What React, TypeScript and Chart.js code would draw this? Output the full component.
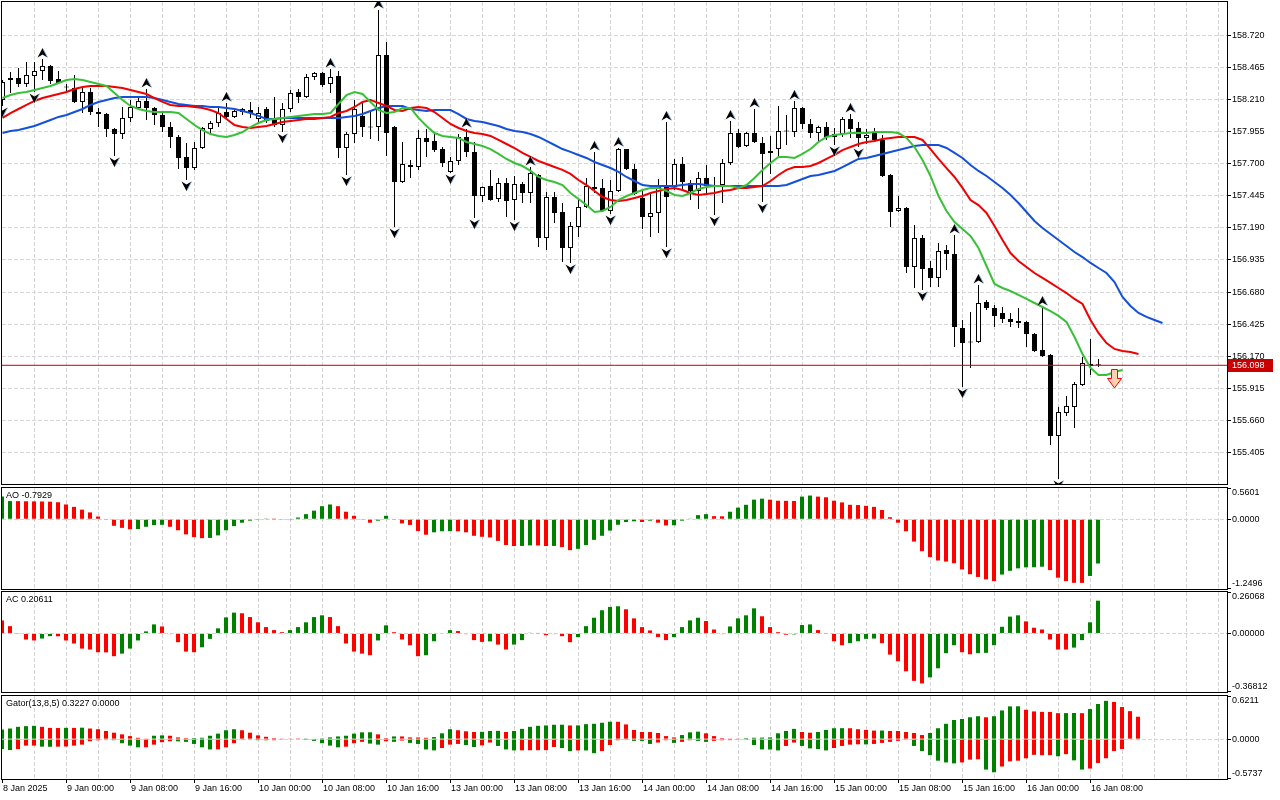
import React, { useEffect, useRef } from "react";
import { Chart, registerables } from "chart.js";

Chart.register(...registerables);

// ---------------- styling ----------------
const FONT = { family: "'Liberation Sans', Arial, sans-serif", size: 9 };
const GRID = "#d6d6d6";
const GRID_DASH = [4, 2];
const HIST_GREEN = "#008000";
const HIST_RED = "#ff0000";
const JAW_BLUE = "#1450d8";
const TEETH_RED = "#f00000";
const LIPS_GREEN = "#38c038";
const PRICE_LINE = "#c00000";
const BAR_SLOTS = 153.125; // visible hourly slots across the plot width

// ---------------- data ----------------
const xLabels = [
  "8 Jan 2025", "9 Jan 00:00", "9 Jan 08:00", "9 Jan 16:00", "10 Jan 00:00", "10 Jan 08:00",
  "10 Jan 16:00", "13 Jan 00:00", "13 Jan 08:00", "13 Jan 16:00", "14 Jan 00:00", "14 Jan 08:00",
  "14 Jan 16:00", "15 Jan 00:00", "15 Jan 08:00", "15 Jan 16:00", "16 Jan 00:00", "16 Jan 08:00",
];

const priceTicks = [
  158.72, 158.465, 158.21, 157.955, 157.7, 157.445, 157.19, 156.935, 156.68, 156.425, 156.17,
  155.915, 155.66, 155.405,
];
const mainPriceMin = 155.155;
const mainPriceMax = 158.984;

const opens = [
  158.206, 158.364, 158.38, 158.333, 158.396, 158.436, 158.476, 158.372, 158.309, 158.301,
  158.19, 158.269, 158.11, 158.094, 157.975, 157.936, 158.063, 158.142, 158.198, 158.142,
  158.086, 157.991, 157.912, 157.753, 157.665, 157.824, 157.975, 158.023, 158.11, 158.071,
  158.11, 158.126, 158.055, 158.134, 158.047, 158.007, 158.134, 158.269, 158.229, 158.388,
  158.42, 158.333, 158.396, 157.824, 157.936, 158.079, 157.991, 157.991, 158.563, 157.991,
  157.554, 157.689, 157.673, 157.904, 157.88, 157.816, 157.634, 157.721, 157.912, 157.793,
  157.443, 157.522, 157.419, 157.546, 157.411, 157.538, 157.467, 157.61, 157.109, 157.435,
  157.316, 157.03, 157.197, 157.356, 157.499, 157.507, 157.324, 157.483, 157.816, 157.657,
  157.427, 157.276, 157.308, 157.514, 157.514, 157.697, 157.546, 157.483, 157.586, 157.514,
  157.53, 157.705, 157.943, 157.84, 157.943, 157.864, 157.785, 157.816, 157.959, 157.951,
  158.142, 158.015, 157.943, 157.991, 157.936, 157.936, 158.055, 157.983, 157.904, 157.943,
  157.888, 157.61, 157.324, 157.348, 156.879, 157.109, 156.871, 156.792, 157.014, 156.982,
  156.394, 156.283, 156.283, 156.601, 156.553, 156.514, 156.466, 156.434, 156.442, 156.347,
  156.22, 156.18, 155.536, 155.719, 155.767, 155.942, 156.108, 156.101,
];
const highs = [
  158.364, 158.428, 158.46, 158.507, 158.507, 158.531, 158.484, 158.436, 158.333, 158.404,
  158.301, 158.301, 158.142, 158.102, 157.983, 158.15, 158.206, 158.229, 158.293, 158.15,
  158.11, 158.031, 157.928, 157.864, 157.872, 157.991, 158.039, 158.15, 158.182, 158.142,
  158.142, 158.19, 158.15, 158.15, 158.229, 158.182, 158.285, 158.293, 158.412, 158.428,
  158.428, 158.452, 158.436, 157.951, 158.206, 158.182, 158.126, 158.921, 158.666, 157.999,
  157.872, 157.729, 157.967, 157.975, 157.943, 157.832, 157.753, 157.936, 157.975, 157.872,
  157.518, 157.65, 157.586, 157.586, 157.602, 157.554, 157.673, 157.618, 157.475, 157.475,
  157.387, 157.236, 157.411, 157.586, 157.793, 157.578, 157.57, 157.824, 157.816, 157.697,
  157.491, 157.467, 157.578, 158.031, 157.737, 157.753, 157.57, 157.634, 157.689, 157.594,
  157.737, 158.039, 157.975, 157.951, 158.134, 157.912, 157.92, 158.158, 158.086, 158.198,
  158.15, 158.055, 158.0, 158.031, 157.983, 158.071, 158.094, 158.031, 157.975, 157.983,
  157.928, 157.618, 157.443, 157.356, 157.213, 157.133, 156.927, 157.07, 157.054, 157.133,
  156.458, 156.521, 156.736, 156.617, 156.577, 156.561, 156.514, 156.553, 156.45, 156.355,
  156.561, 156.188, 155.767, 155.854, 155.965, 156.164, 156.307, 156.148,
];
const lows = [
  158.158, 158.261, 158.309, 158.309, 158.269, 158.364, 158.333, 158.333, 158.277, 158.182,
  158.102, 158.086, 157.991, 157.912, 157.761, 157.896, 158.031, 158.126, 158.047, 158.007,
  157.951, 157.824, 157.657, 157.57, 157.65, 157.816, 157.928, 157.991, 158.063, 158.063,
  158.086, 158.063, 158.031, 158.023, 157.991, 157.951, 158.11, 158.182, 158.221, 158.364,
  158.309, 158.261, 157.745, 157.61, 157.864, 157.912, 157.896, 157.88, 157.761, 157.197,
  157.546, 157.586, 157.65, 157.753, 157.793, 157.673, 157.626, 157.689, 157.753, 157.268,
  157.395, 157.405, 157.395, 157.276, 157.252, 157.387, 157.387, 157.038, 157.014, 157.228,
  156.919, 156.911, 157.117, 157.348, 157.467, 157.316, 157.3, 157.475, 157.65, 157.451,
  157.181, 157.117, 157.149, 157.038, 157.491, 157.491, 157.411, 157.34, 157.467, 157.292,
  157.387, 157.689, 157.824, 157.832, 157.864, 157.395, 157.618, 157.753, 157.848, 157.912,
  157.975, 157.904, 157.88, 157.888, 157.848, 157.912, 157.904, 157.832, 157.856, 157.872,
  157.594, 157.197, 157.316, 156.831, 156.712, 156.696, 156.72, 156.72, 156.855, 156.243,
  155.926, 156.077, 156.275, 156.537, 156.402, 156.434, 156.402, 156.394, 156.243, 156.204,
  156.164, 155.465, 155.195, 155.695, 155.6, 155.934, 156.021, 156.085,
];
const closes = [
  158.349, 158.38, 158.333, 158.404, 158.436, 158.476, 158.357, 158.341, 158.305, 158.19,
  158.269, 158.11, 158.094, 157.975, 157.936, 158.063, 158.15, 158.198, 158.142, 158.086,
  157.991, 157.912, 157.745, 157.665, 157.824, 157.983, 158.023, 158.102, 158.071, 158.118,
  158.134, 158.102, 158.102, 158.039, 158.007, 158.134, 158.261, 158.229, 158.388, 158.42,
  158.325, 158.388, 157.824, 157.936, 158.134, 157.991, 157.987, 158.563, 157.943, 157.554,
  157.697, 157.673, 157.904, 157.872, 157.808, 157.705, 157.721, 157.912, 157.793, 157.443,
  157.514, 157.411, 157.546, 157.403, 157.538, 157.467, 157.626, 157.109, 157.435, 157.308,
  157.03, 157.205, 157.356, 157.522, 157.514, 157.324, 157.483, 157.816, 157.657, 157.459,
  157.276, 157.308, 157.514, 157.435, 157.697, 157.554, 157.483, 157.586, 157.522, 157.53,
  157.705, 157.943, 157.832, 157.943, 157.872, 157.777, 157.8, 157.959, 157.955, 158.142,
  158.015, 157.943, 157.991, 157.912, 157.912, 158.055, 157.975, 157.904, 157.928, 157.888,
  157.602, 157.316, 157.348, 156.879, 157.109, 156.863, 156.792, 157.006, 156.982, 156.402,
  156.275, 156.279, 156.593, 156.553, 156.49, 156.466, 156.442, 156.45, 156.347, 156.212,
  156.172, 155.536, 155.727, 155.775, 155.949, 156.116, 156.093, 156.098,
];

// Alligator (displayed, already shifted forward)
const jaw = [
  157.943, 157.959, 157.967, 157.983, 157.999, 158.023, 158.047, 158.071, 158.086, 158.11,
  158.134, 158.166, 158.19, 158.206, 158.221, 158.229, 158.229, 158.229, 158.229, 158.221,
  158.206, 158.19, 158.174, 158.166, 158.158, 158.158, 158.15, 158.15, 158.142, 158.134,
  158.118, 158.102, 158.079, 158.055, 158.055, 158.063, 158.063, 158.063, 158.063, 158.063,
  158.063, 158.063, 158.063, 158.071, 158.079, 158.094, 158.118, 158.142, 158.158, 158.158,
  158.158, 158.134, 158.126, 158.118, 158.126, 158.126, 158.126, 158.094, 158.055, 158.039,
  158.031, 158.015, 157.999, 157.975, 157.959, 157.951, 157.935, 157.912, 157.88, 157.848,
  157.816, 157.793, 157.769, 157.745, 157.713, 157.689, 157.665, 157.634, 157.594, 157.562,
  157.53, 157.522, 157.522, 157.522, 157.522, 157.53, 157.538, 157.538, 157.53, 157.522,
  157.522, 157.522, 157.522, 157.522, 157.522, 157.522, 157.522, 157.522, 157.53, 157.554,
  157.578, 157.602, 157.61, 157.626, 157.642, 157.673, 157.705, 157.737, 157.745, 157.761,
  157.777, 157.793, 157.808, 157.824, 157.84, 157.848, 157.848, 157.848, 157.824, 157.785,
  157.745, 157.689, 157.642, 157.602, 157.554, 157.507, 157.451, 157.387, 157.316, 157.244,
  157.189, 157.141, 157.093, 157.046, 156.998, 156.958, 156.911, 156.871, 156.831, 156.76,
  156.641, 156.569, 156.514, 156.482, 156.458, 156.434,
];
const teeth = [
  158.063, 158.102, 158.134, 158.166, 158.198, 158.221, 158.237, 158.253, 158.269, 158.293,
  158.309, 158.317, 158.317, 158.317, 158.309, 158.301, 158.285, 158.269, 158.253, 158.221,
  158.19, 158.166, 158.158, 158.158, 158.15, 158.142, 158.126, 158.102, 158.055, 158.007,
  157.991, 157.983, 157.991, 157.999, 158.015, 158.031, 158.039, 158.047, 158.055, 158.055,
  158.063, 158.071, 158.102, 158.118, 158.15, 158.19, 158.206, 158.182, 158.158, 158.126,
  158.118, 158.142, 158.15, 158.142, 158.11, 158.063, 158.015, 157.983, 157.959, 157.943,
  157.935, 157.92, 157.888, 157.856, 157.824, 157.785, 157.753, 157.721, 157.697, 157.673,
  157.65, 157.618, 157.57, 157.53, 157.483, 157.435, 157.411, 157.403, 157.411, 157.427,
  157.443, 157.467, 157.483, 157.499, 157.507, 157.491, 157.467, 157.451, 157.459, 157.467,
  157.483, 157.491, 157.507, 157.507, 157.514, 157.522, 157.562, 157.61, 157.65, 157.673,
  157.673, 157.681, 157.705, 157.737, 157.769, 157.808, 157.832, 157.856, 157.872, 157.88,
  157.896, 157.904, 157.912, 157.912, 157.912, 157.888, 157.816, 157.737, 157.665, 157.594,
  157.507, 157.411, 157.371, 157.308, 157.205, 157.093, 156.99, 156.927, 156.879, 156.831,
  156.792, 156.752, 156.712, 156.672, 156.625, 156.585, 156.458, 156.355, 156.275, 156.228,
  156.212, 156.204, 156.188,
];
const lips = [
  158.221, 158.245, 158.261, 158.269, 158.285, 158.301, 158.317, 158.341, 158.364, 158.372,
  158.364, 158.349, 158.333, 158.317, 158.261, 158.206, 158.158, 158.134, 158.118, 158.11,
  158.11, 158.11, 158.102, 158.055, 158.007, 157.967, 157.935, 157.92, 157.912, 157.928,
  157.951, 157.991, 158.023, 158.047, 158.055, 158.063, 158.071, 158.079, 158.086, 158.094,
  158.094, 158.102, 158.174, 158.245, 158.269, 158.253, 158.19, 158.126, 158.102, 158.11,
  158.142, 158.142, 158.063, 157.999, 157.943, 157.92, 157.912, 157.904, 157.872, 157.856,
  157.84, 157.816, 157.777, 157.737, 157.705, 157.681, 157.642, 157.594, 157.57, 157.554,
  157.53, 157.467, 157.419, 157.371, 157.316, 157.324, 157.356, 157.411, 157.443, 157.467,
  157.491, 157.507, 157.507, 157.483, 157.451, 157.443, 157.467, 157.499, 157.514, 157.522,
  157.522, 157.522, 157.507, 157.53, 157.586, 157.65, 157.705, 157.753, 157.753, 157.745,
  157.777, 157.816, 157.872, 157.912, 157.928, 157.935, 157.943, 157.943, 157.943, 157.951,
  157.951, 157.951, 157.943, 157.904, 157.832, 157.729, 157.602, 157.443, 157.324, 157.236,
  157.181, 157.125, 157.03, 156.887, 156.744, 156.712, 156.688, 156.657, 156.625, 156.593,
  156.561, 156.529, 156.49, 156.442, 156.323, 156.188, 156.077, 156.021, 156.021, 156.045,
  156.061,
];

const upFractalBars = [5, 18, 28, 41, 47, 58, 66, 74, 77, 83, 91, 94, 99, 106, 119, 122, 130];
const downFractalBars = [0, 4, 14, 23, 35, 43, 49, 56, 59, 64, 71, 76, 83, 89, 95, 104, 107, 115, 120, 132];

const lastPrice = 156.098;
const sellSignalBar = 139;
const sellSignalPrice = 156.069;

// Awesome Oscillator
const aoValues = [
  0.406, 0.326, 0.325, 0.322, 0.32, 0.318, 0.315, 0.305, 0.265, 0.222,
  0.172, 0.123, 0.049, -0.012, -0.117, -0.154, -0.179, -0.175, -0.135, -0.105,
  -0.1, -0.135, -0.197, -0.271, -0.32, -0.339, -0.335, -0.289, -0.197, -0.123,
  -0.062, -0.025, -0.006, 0.003, 0.001, -0.012, -0.014, 0.031, 0.092, 0.154,
  0.234, 0.265, 0.234, 0.135, 0.062, -0.012, -0.062, -0.025, 0.062, -0.012,
  -0.074, -0.102, -0.212, -0.277, -0.234, -0.215, -0.213, -0.216, -0.234, -0.296,
  -0.314, -0.326, -0.388, -0.462, -0.48, -0.478, -0.468, -0.47, -0.48, -0.478,
  -0.499, -0.554, -0.53, -0.462, -0.369, -0.296, -0.203, -0.099, -0.049, -0.037,
  -0.049, -0.025, -0.062, -0.111, -0.108, -0.025, 0.012, 0.074, 0.092, 0.055,
  0.053, 0.135, 0.209, 0.259, 0.351, 0.369, 0.351, 0.332, 0.33, 0.328,
  0.406, 0.425, 0.406, 0.394, 0.332, 0.302, 0.259, 0.255, 0.24, 0.222,
  0.166, 0.037, -0.062, -0.215, -0.4, -0.573, -0.677, -0.739, -0.758, -0.788,
  -0.899, -0.985, -1.034, -1.077, -1.108, -0.991, -0.924, -0.88, -0.862, -0.86,
  -0.85, -0.911, -1.047, -1.108, -1.139, -1.14, -1.016, -0.7929,
];
const aoColorFlags =
  "ggrrrrrrrr" + "rrrrrrrggg" + "grrrrrgggg" + "ggggrrrggg" + "ggrrrrrggr" +
  "rrrrgggrrr" + "rrrrrggrrg" + "rrgggggggg" + "rgrrgggggr" + "rgggggrrrr" +
  "ggrrrrrrrr" + "rrrrrrrrrr" + "rrrrrggggg" + "grrrrrgg";

// Accelerator Oscillator
const acValues = [
  0.082, 0.046, -0.002, -0.038, -0.044, -0.032, -0.017, -0.018, -0.044, -0.063,
  -0.095, -0.101, -0.118, -0.119, -0.143, -0.127, -0.095, -0.044, 0.013, 0.057,
  0.044, -0.004, -0.055, -0.114, -0.118, -0.087, -0.034, 0.032, 0.101, 0.131,
  0.127, 0.103, 0.07, 0.04, 0.021, 0.008, 0.021, 0.04, 0.07, 0.103,
  0.114, 0.103, 0.046, -0.063, -0.114, -0.127, -0.137, -0.044, 0.051, 0.008,
  -0.038, -0.074, -0.143, -0.137, -0.049, 0.003, 0.021, 0.015, -0.004, -0.042,
  -0.053, -0.05, -0.07, -0.101, -0.07, -0.042, 0.004, 0.002, -0.011, -0.004,
  -0.017, -0.055, -0.023, 0.046, 0.099, 0.146, 0.167, 0.171, 0.152, 0.095,
  0.04, 0.019, -0.023, -0.042, -0.023, 0.04, 0.082, 0.099, 0.078, 0.025,
  -0.004, 0.044, 0.095, 0.114, 0.158, 0.108, 0.04, 0.008, -0.008, -0.006,
  0.053, 0.057, 0.021, -0.002, -0.049, -0.074, -0.061, -0.049, -0.034, -0.032,
  -0.061, -0.133, -0.175, -0.238, -0.298, -0.314, -0.276, -0.219, -0.124, -0.074,
  -0.118, -0.131, -0.124, -0.122, -0.074, 0.042, 0.106, 0.114, 0.076, 0.036,
  0.025, -0.038, -0.101, -0.101, -0.089, -0.042, 0.07, 0.20611,
];
const acColorFlags =
  "rrrrrggrrr" + "rrrrrggggg" + "rrrrrggggg" + "rrrrrrgggg" + "grrrrrrggr" +
  "rrrggggrrr" + "rgrrgggrrg" + "rrggggggrr" + "rrrrggggrr" + "rggggrrrrg" +
  "ggrrrrgggg" + "rrrrrrgggg" + "rrggggggrr" + "rrrrgggg";

// Gator oscillator: upper |jaw - teeth|, lower -|teeth - lips|
const gatorUpper = [
  0.138, 0.153, 0.177, 0.187, 0.192, 0.177, 0.162, 0.16, 0.163, 0.162,
  0.165, 0.153, 0.143, 0.118, 0.093, 0.069, 0.044, 0.02, 0.01, 0.049,
  0.054, 0.049, 0.025, 0.015, 0.016, 0.02, 0.049, 0.079, 0.128, 0.143,
  0.128, 0.093, 0.054, 0.034, 0.015, 0.01, 0.005, 0.003, 0.004, 0.008,
  0.012, 0.025, 0.039, 0.049, 0.079, 0.098, 0.099, 0.069, 0.015, 0.039,
  0.039, 0.025, 0.024, 0.02, 0.03, 0.084, 0.143, 0.128, 0.113, 0.103,
  0.105, 0.118, 0.119, 0.103, 0.118, 0.148, 0.177, 0.192, 0.197, 0.207,
  0.208, 0.197, 0.198, 0.216, 0.221, 0.236, 0.251, 0.25, 0.212, 0.133,
  0.103, 0.102, 0.089, 0.044, 0.025, 0.059, 0.098, 0.108, 0.084, 0.044,
  0.015, 0.01, 0.005, 0.015, 0.02, 0.022, 0.025, 0.084, 0.118, 0.148,
  0.103, 0.093, 0.103, 0.133, 0.157, 0.158, 0.157, 0.143, 0.133, 0.123,
  0.124, 0.118, 0.117, 0.103, 0.089, 0.059, 0.089, 0.157, 0.221, 0.276,
  0.29, 0.315, 0.33, 0.315, 0.33, 0.413, 0.472, 0.473, 0.423, 0.399,
  0.393, 0.392, 0.374, 0.375, 0.376, 0.374, 0.433, 0.506, 0.551, 0.536,
  0.462, 0.403, 0.3227,
];
const gatorUpperFlags =
  "gggggrrrgr" + "grrrrrrrrg" + "grrrgggggg" + "rrrrrrrrgg" + "gggggggrrg" +
  "rrrrgggrrr" + "gggrgggggg" + "grgggggrrr" + "rrrrrgggrr" + "rrrggggggg" +
  "rrggggrrrr" + "grrrrrgggg" + "gggrggggrr" + "rrrggrgggr" + "rrr";
const gatorLower = [
  -0.143, -0.157, -0.143, -0.093, -0.093, -0.108, -0.11, -0.108, -0.106, -0.093,
  -0.079, -0.03, -0.016, -0.005, -0.015, -0.059, -0.093, -0.118, -0.117, -0.079,
  -0.044, -0.03, -0.031, -0.039, -0.069, -0.118, -0.148, -0.147, -0.118, -0.059,
  -0.01, -0.009, -0.015, -0.016, -0.015, -0.01, -0.009, -0.008, -0.012, -0.025,
  -0.059, -0.093, -0.118, -0.108, -0.059, -0.039, -0.064, -0.079, -0.03, -0.039,
  -0.02, -0.054, -0.069, -0.148, -0.162, -0.128, -0.079, -0.069, -0.084, -0.113,
  -0.089, -0.049, -0.098, -0.148, -0.162, -0.161, -0.16, -0.159, -0.158, -0.113,
  -0.128, -0.172, -0.162, -0.163, -0.202, -0.172, -0.084, -0.015, -0.01, -0.025,
  -0.026, -0.069, -0.049, -0.015, -0.054, -0.039, -0.015, -0.025, -0.039, -0.025,
  -0.015, -0.014, -0.01, -0.011, -0.084, -0.148, -0.149, -0.162, -0.098, -0.049,
  -0.098, -0.133, -0.143, -0.162, -0.128, -0.098, -0.079, -0.074, -0.075, -0.069,
  -0.054, -0.039, -0.025, -0.01, -0.098, -0.172, -0.231, -0.31, -0.335, -0.349,
  -0.335, -0.295, -0.29, -0.438, -0.477, -0.394, -0.32, -0.31, -0.276, -0.226,
  -0.231, -0.23, -0.246, -0.216, -0.305, -0.438, -0.423, -0.344, -0.275, -0.172,
  -0.143,
];
const gatorLowerFlags =
  "ggrrrggrrr" + "rrrrggggrr" + "rrgggggrrr" + "rrggrrrrgg" + "gggrrrggrg" +
  "rggggrrrgg" + "rrgggrrrrr" + "ggrggrrrrg" + "ggrrgrrggr" + "rrrgggggrr" +
  "ggggrrrrgr" + "rrrrgggggg" + "rrrggrrrrr" + "rrgrggrrrrr";

const aoAxis = [
  { value: 0.5601, text: "0.5601" },
  { value: 0, text: "0.0000" },
  { value: -1.2496, text: "-1.2496" },
];
const acAxis = [
  { value: 0.26068, text: "0.26068" },
  { value: 0, text: "0.00000" },
  { value: -0.36812, text: "-0.36812" },
];
const gatorAxis = [
  { value: 0.6211, text: "0.6211" },
  { value: 0, text: "0.0000" },
  { value: -0.5737, text: "-0.5737" },
];

// ---------------- helpers ----------------
const flagColors = (flags: string) => flags.split("").map((f) => (f === "g" ? HIST_GREEN : HIST_RED));
const asPoints = (vals: number[]) => vals.map((y, x) => ({ x, y }));

function makeFractalGlyph(up: boolean): HTMLCanvasElement {
  const c = document.createElement("canvas");
  c.width = 11;
  c.height = 24;
  const g = c.getContext("2d") as CanvasRenderingContext2D;
  if (!up) {
    g.translate(0, 24);
    g.scale(1, -1);
  }
  g.beginPath();
  g.moveTo(5.5, 1);
  g.lineTo(10.5, 10.5);
  g.lineTo(5.5, 7.5);
  g.lineTo(0.5, 10.5);
  g.closePath();
  g.fillStyle = "#000";
  g.fill();
  g.strokeStyle = "#86a8d8";
  g.lineWidth = 1;
  g.beginPath();
  g.moveTo(6.2, 2);
  g.lineTo(10.5, 10.2);
  g.stroke();
  return c;
}

function makeSellGlyph(): HTMLCanvasElement {
  const c = document.createElement("canvas");
  c.width = 15;
  c.height = 42;
  const g = c.getContext("2d") as CanvasRenderingContext2D;
  g.beginPath();
  g.moveTo(4.5, 21.5);
  g.lineTo(10.5, 21.5);
  g.lineTo(10.5, 30.5);
  g.lineTo(14.5, 30.5);
  g.lineTo(7.5, 40);
  g.lineTo(0.5, 30.5);
  g.lineTo(4.5, 30.5);
  g.closePath();
  const grad = g.createLinearGradient(0, 0, 15, 0);
  grad.addColorStop(0, "#ffc0c0");
  grad.addColorStop(1, "#ffe0a0");
  g.fillStyle = grad;
  g.fill();
  g.strokeStyle = "#ff0000";
  g.lineWidth = 1;
  g.stroke();
  return c;
}

const decorPlugin = {
  id: "panelDecor",
  afterDraw(chart: any, _args: any, opts: any) {
    const { ctx, chartArea: a } = chart;
    ctx.save();
    ctx.strokeStyle = "#000";
    ctx.lineWidth = 1;
    ctx.setLineDash([]);
    ctx.strokeRect(a.left - 0.5, a.top - 0.5, a.right - a.left + 1, a.bottom - a.top + 1);
    ctx.font = `${FONT.size}px ${FONT.family}`;
    ctx.fillStyle = "#000";
    ctx.textBaseline = "middle";
    ctx.textAlign = "left";
    if (opts.title) ctx.fillText(opts.title, a.left + 4, a.top + 8);
    if (opts.axisTicks) {
      const ys = chart.scales.y;
      for (const t of opts.axisTicks) {
        const py = ys.getPixelForValue(t.value);
        const ly = Math.round(Math.min(Math.max(py, a.top), a.bottom - 1)) + 0.5;
        ctx.beginPath();
        ctx.moveTo(a.right, ly);
        ctx.lineTo(a.right + 4, ly);
        ctx.stroke();
        const ty = Math.min(Math.max(py, a.top + 5), a.bottom - 5);
        ctx.fillText(t.text, a.right + 5, ty);
      }
    }
    if (opts.priceTag) {
      const py = Math.round(chart.scales.y.getPixelForValue(opts.priceTag.value));
      ctx.fillStyle = "#c80000";
      ctx.fillRect(a.right + 1, py - 6, 45, 13);
      ctx.fillStyle = "#ffffff";
      ctx.fillText(opts.priceTag.text, a.right + 5, py + 0.5);
    }
    ctx.restore();
  },
};

function xScale(min: number, showLabels: boolean): any {
  const gridBars: number[] = [];
  for (let b = 0; b <= 152; b += 4) gridBars.push(b);
  const isLabel = (v: number) => v % 8 === 0 && v / 8 < xLabels.length;
  return {
    type: "linear",
    position: "bottom",
    min,
    max: min + BAR_SLOTS,
    offset: false,
    grid: {
      offset: false,
      lineWidth: 1,
      color: (c: any) => (c.tick && c.tick.value > 0 ? GRID : "rgba(0,0,0,0)"),
      drawTicks: showLabels,
      tickLength: 4,
      tickWidth: 1,
      tickBorderDash: [],
      tickColor: (c: any) => (c.tick && isLabel(c.tick.value) ? "#000" : "rgba(0,0,0,0)"),
    },
    border: { display: false, dash: GRID_DASH },
    ticks: {
      display: showLabels,
      autoSkip: false,
      maxRotation: 0,
      minRotation: 0,
      align: "start",
      padding: 0,
      labelOffset: 1,
      color: "#000",
      font: FONT,
      callback: (v: number) => (isLabel(v) ? xLabels[v / 8] : ""),
    },
    afterBuildTicks: (s: any) => {
      s.ticks = gridBars.map((value) => ({ value }));
    },
    afterFit: (s: any) => {
      s.height = showLabels ? 21 : 0;
      s.paddingLeft = 0;
      s.paddingRight = 0;
    },
  };
}

function indicatorYScale(min: number, max: number): any {
  return {
    type: "linear",
    position: "right",
    min,
    max,
    grid: {
      color: (c: any) => (c.tick && c.tick.value === 0 ? GRID : "rgba(0,0,0,0)"),
      drawTicks: false,
      lineWidth: 1,
    },
    border: { display: false, dash: GRID_DASH },
    ticks: { display: false },
    afterBuildTicks: (s: any) => {
      s.ticks = [{ value: max }, { value: 0 }, { value: min }];
    },
    afterFit: (s: any) => {
      s.width = 53;
      s.paddingTop = 0;
      s.paddingBottom = 0;
    },
  };
}

function histDataset(values: number[], flags: string): any {
  return {
    type: "bar",
    data: asPoints(values),
    backgroundColor: flagColors(flags),
    borderWidth: 0,
    barThickness: 4,
    grouped: false,
    inflateAmount: 0,
  };
}

function indicatorChart(
  canvas: HTMLCanvasElement,
  datasets: any[],
  min: number,
  max: number,
  title: string,
  axisTicks: any[],
  padding: any,
  showLabels: boolean
) {
  return new Chart(canvas, {
    type: "bar",
    data: { datasets },
    options: {
      responsive: false,
      devicePixelRatio: 1,
      animation: false,
      events: [],
      layout: { padding, autoPadding: false },
      scales: { x: xScale(0, showLabels), y: indicatorYScale(min, max) },
      plugins: {
        legend: { display: false },
        tooltip: { enabled: false },
        panelDecor: { title, axisTicks },
      } as any,
    } as any,
    plugins: [decorPlugin as any],
  });
}

export default function App() {
  const mainRef = useRef<HTMLCanvasElement>(null);
  const aoRef = useRef<HTMLCanvasElement>(null);
  const acRef = useRef<HTMLCanvasElement>(null);
  const gatorRef = useRef<HTMLCanvasElement>(null);

  useEffect(() => {
    const upGlyph = makeFractalGlyph(true);
    const downGlyph = makeFractalGlyph(false);
    const sellGlyph = makeSellGlyph();

    const bodies = opens.map((o, i) => ({ x: i, y: [Math.min(o, closes[i]), Math.max(o, closes[i])] }));
    const bodyColors = opens.map((o, i) => (closes[i] > o ? "#ffffff" : "#000000"));
    const wicks = lows.map((l, i) => ({ x: i, y: [l, highs[i]] }));

    const main = new Chart(mainRef.current as HTMLCanvasElement, {
      type: "bar",
      data: {
        datasets: [
          {
            type: "line",
            data: upFractalBars.map((i) => ({ x: i, y: highs[i] })),
            showLine: false,
            pointStyle: upGlyph,
            pointRadius: 5,
            order: -4,
          },
          {
            type: "line",
            data: downFractalBars.map((i) => ({ x: i, y: lows[i] })),
            showLine: false,
            pointStyle: downGlyph,
            pointRadius: 5,
            order: -4,
          },
          {
            type: "line",
            data: [{ x: sellSignalBar, y: sellSignalPrice }],
            showLine: false,
            pointStyle: sellGlyph,
            pointRadius: 5,
            order: -4,
          },
          { type: "line", data: asPoints(lips), borderColor: LIPS_GREEN, borderWidth: 2, pointRadius: 0, order: -3 },
          { type: "line", data: asPoints(teeth), borderColor: TEETH_RED, borderWidth: 2, pointRadius: 0, order: -2 },
          { type: "line", data: asPoints(jaw), borderColor: JAW_BLUE, borderWidth: 2, pointRadius: 0, order: -1 },
          {
            type: "line",
            data: [
              { x: -2, y: lastPrice },
              { x: 160, y: lastPrice },
            ],
            borderColor: PRICE_LINE,
            borderWidth: 1,
            pointRadius: 0,
            order: 0,
          },
          {
            type: "bar",
            data: bodies,
            backgroundColor: bodyColors,
            borderColor: "#000",
            borderWidth: 1,
            borderSkipped: false,
            barThickness: 5,
            minBarLength: 1,
            grouped: false,
            inflateAmount: 0,
            order: 1,
          },
          {
            type: "bar",
            data: wicks,
            backgroundColor: "#000",
            borderWidth: 0,
            barThickness: 1,
            grouped: false,
            inflateAmount: 0,
            order: 2,
          },
        ] as any,
      },
      options: {
        responsive: false,
        devicePixelRatio: 1,
        animation: false,
        events: [],
        layout: { padding: { left: 2, top: 2, right: 0, bottom: 2 }, autoPadding: false },
        scales: {
          x: xScale(-0.0625, false),
          y: {
            type: "linear",
            position: "right",
            min: mainPriceMin,
            max: mainPriceMax,
            grid: {
              color: GRID,
              lineWidth: 1,
              drawTicks: true,
              tickLength: 4,
              tickWidth: 1,
              tickColor: "#000",
              tickBorderDash: [],
            },
            border: { display: false, dash: GRID_DASH },
            ticks: {
              color: "#000",
              font: FONT,
              padding: 1,
              callback: (v: any) => Number(v).toFixed(3),
            },
            afterBuildTicks: (s: any) => {
              s.ticks = priceTicks.map((value) => ({ value }));
            },
            afterFit: (s: any) => {
              s.width = 53;
              s.paddingTop = 0;
              s.paddingBottom = 0;
            },
          } as any,
        },
        plugins: {
          legend: { display: false },
          tooltip: { enabled: false },
          panelDecor: { priceTag: { value: lastPrice, text: lastPrice.toFixed(3) } },
        } as any,
      } as any,
      plugins: [decorPlugin as any],
    });

    const ao = indicatorChart(
      aoRef.current as HTMLCanvasElement,
      [histDataset(aoValues, aoColorFlags)],
      aoAxis[2].value,
      aoAxis[0].value,
      `AO ${aoValues[aoValues.length - 1].toFixed(4)}`,
      aoAxis,
      { left: 2, top: 2, right: 0, bottom: 1 },
      false
    );
    const ac = indicatorChart(
      acRef.current as HTMLCanvasElement,
      [histDataset(acValues, acColorFlags)],
      acAxis[2].value,
      acAxis[0].value,
      `AC ${acValues[acValues.length - 1].toFixed(5)}`,
      acAxis,
      { left: 2, top: 2, right: 0, bottom: 2 },
      false
    );
    const gator = indicatorChart(
      gatorRef.current as HTMLCanvasElement,
      [histDataset(gatorUpper, gatorUpperFlags), histDataset(gatorLower, gatorLowerFlags)],
      gatorAxis[2].value,
      gatorAxis[0].value,
      `Gator(13,8,5) ${gatorUpper[gatorUpper.length - 1].toFixed(4)} 0.0000`,
      gatorAxis,
      { left: 2, top: 2, right: 0, bottom: 0 },
      true
    );

    return () => {
      main.destroy();
      ao.destroy();
      ac.destroy();
      gator.destroy();
    };
  }, []);

  const cv = (top: number, height: number): React.CSSProperties => ({
    position: "absolute",
    left: 0,
    top,
    width: 1280,
    height,
  });

  return (
    <div
      style={{
        position: "fixed",
        left: 0,
        top: 0,
        width: 1280,
        height: 800,
        background: "#ffffff",
        overflow: "hidden",
      }}
    >
      <canvas ref={mainRef} width={1280} height={486} style={cv(0, 486)} />
      <canvas ref={aoRef} width={1280} height={104} style={cv(486, 104)} />
      <canvas ref={acRef} width={1280} height={104} style={cv(590, 104)} />
      <canvas ref={gatorRef} width={1280} height={106} style={cv(694, 106)} />
    </div>
  );
}
